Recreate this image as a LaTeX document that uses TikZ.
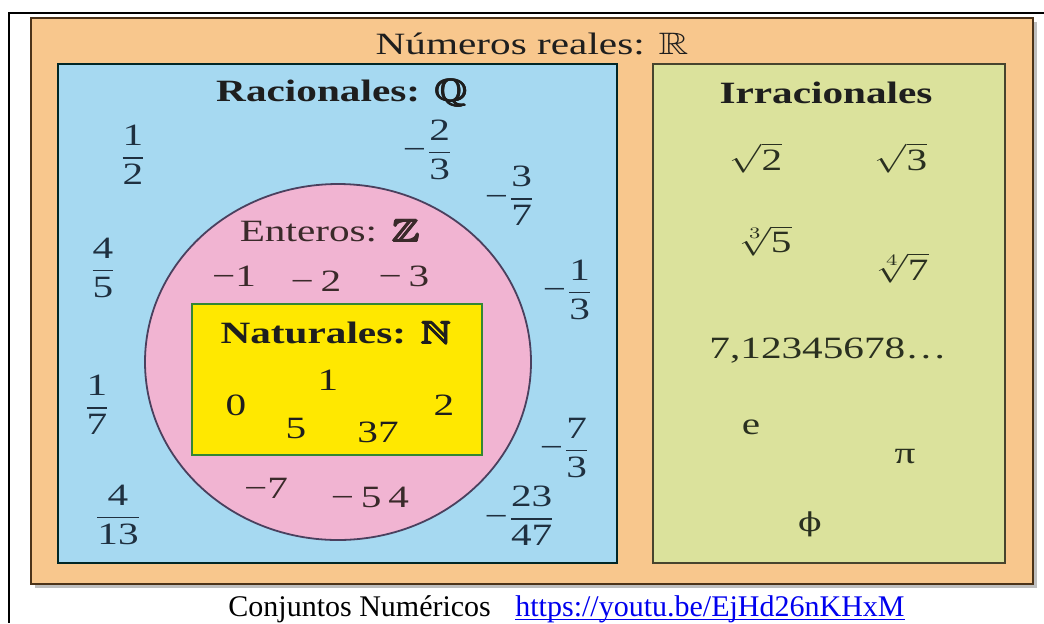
\documentclass[tikz,border=0pt]{standalone}
\usepackage{amssymb}
\usepackage{graphicx}
\usepackage{fontspec}
\setmainfont{Liberation Serif}
\newfontfamily\dvserif{DejaVu Serif}
\newsavebox\wbox
\newcommand\bbone[3]{\makebox[0pt][l]{\hspace{#2}\raisebox{#3}{$\mathbb{#1}$}}}
\newcommand\bbb[1]{\mbox{\bbone{#1}{0pt}{0pt}\bbone{#1}{0.7pt}{0pt}\bbone{#1}{0.35pt}{0.4pt}\bbone{#1}{0.35pt}{-0.35pt}\bbone{#1}{0.35pt}{0pt}\bbone{#1}{0.15pt}{0.3pt}\bbone{#1}{0.55pt}{-0.25pt}\hspace{0.7pt}$\mathbb{#1}$}}
\newcommand\fr[2]{$\displaystyle\frac{\mbox{#1}}{\mbox{#2}}$}
\definecolor{orangebg}{HTML}{F8C78D}
\definecolor{bluebg}{HTML}{A6D9F1}
\definecolor{greenbg}{HTML}{DBE29C}
\definecolor{pinkbg}{HTML}{F1B4D2}
\definecolor{yellowbg}{HTML}{FFE800}
\definecolor{ink}{HTML}{1E1E1E}
\definecolor{navy}{HTML}{1F3040}
\definecolor{brownink}{HTML}{3A2A2A}
\definecolor{olivink}{HTML}{2A3020}
\definecolor{ellipseline}{HTML}{4A405E}
\definecolor{linkblue}{HTML}{0000EE}
\tikzset{
  wide/.style={execute at begin node={\setbox\wbox=\hbox\bgroup},
               execute at end node={\egroup\scalebox{1.33}[1]{\usebox\wbox}}},
  txt/.style={wide, inner sep=0pt, font=\fontsize{15.5}{18}\selectfont, text=ink},
  frac/.style={txt, text=navy},
  ent/.style={txt, text=brownink},
  irr/.style={txt, text=olivink},
  boxline/.style={line width=1pt, draw=#1},
  caption/.style={anchor=base west, inner sep=0pt, font=\fontsize{15}{18}\selectfont},
}
\begin{document}
\begin{tikzpicture}[x=0.5pt,y=-0.5pt]
\useasboundingbox (0,0) rectangle (1044,623);
% outer page frame
\draw[line width=1.2pt] (1044,13) -- (9,13) -- (9,623);
% real numbers box
\fill[black!25] (35,22) rectangle (1037,588);
\draw[boxline={black!60!brown}, fill=orangebg] (31,18) rectangle (1033,584);
% rationals and irrationals
\draw[boxline={black!70!teal}, fill=bluebg] (58,64) rectangle (617,563);
\draw[boxline={black!65!olive}, fill=greenbg] (653,64) rectangle (1005,563);
% integers ellipse
\draw[line width=0.9pt, draw=ellipseline, fill=pinkbg] (338,362) ellipse [x radius=193, y radius=178];
% naturals rectangle
\draw[line width=1pt, draw=black!45!green!60!gray, fill=yellowbg] (192,304) rectangle (482,455);

% titles
\node[txt] (title) at (532,44) {Números reales: $\mathbb{R}$};
\node[txt] (racional) at (342,93) {\textbf{Racionales:} \bbb{Q}};
\node[txt] (irracional) at (826,93) {\textbf{Irracionales}};
\node[ent] (enteros) at (330,231) {Enteros: \bbb{Z}};
\node[txt] (naturales) at (336,333) {\textbf{Naturales:} \bbb{N}};

% rationals
\node[frac] (q1) at (133,155) {\fr{1}{2}};
\node[frac] (q2) at (428,150) {−\fr{2}{3}};
\node[frac] (q3) at (510,196) {−\fr{3}{7}};
\node[frac] (q4) at (103,268) {\fr{4}{5}};
\node[frac] (q5) at (568,290) {−\fr{1}{3}};
\node[frac] (q6) at (97,405) {\fr{1}{7}};
\node[frac] (q7) at (565,448) {−\fr{7}{3}};
\node[frac] (q8) at (118,515) {\fr{4}{13}};
\node[frac] (q9) at (520,516) {−\fr{23}{47}};

% integers
\node[ent] (z1) at (234,276) {−1};
\node[ent] (z2) at (316,281) {−\,2};
\node[ent] (z3) at (404,276) {−\,3};
\node[ent] (z4) at (266,488) {−7};
\node[ent] (z5) at (370,497) {−\,5\,4};

% naturals
\node[txt] (n0) at (236,405) {0};
\node[txt] (n1) at (328,380) {1};
\node[txt] (n2) at (444,405) {2};
\node[txt] (n5) at (296,428) {5};
\node[txt] (n37) at (378,432) {37};

% irrationals
\node[irr] (r2) at (756,158) {$\sqrt{\mbox{2}}$};
\node[irr] (r3) at (901,158) {$\sqrt{\mbox{3}}$};
\node[irr] (r5) at (765,241) {$\sqrt[3]{\mbox{5}}$};
\node[irr] (r7) at (902,268) {$\sqrt[4]{\mbox{7}}$};
\node[irr] (dec) at (828,351) {7,12345678…};
\node[irr] (e) at (751,427) {e};
\node[irr] (pi) at (905,457) {π};
\node[irr] (phi) at (810,524) {{\dvserif\fontsize{13}{15}\selectfont ϕ}};

% caption
\node[caption] (cap) at (228,616) {Conjuntos Numéricos};
\node[caption, text=linkblue] (link) at (515,616) {https://youtu.be/EjHd26nKHxM};
\draw[linkblue, line width=0.6pt] ([yshift=-1.6pt]link.base west) -- ([yshift=-1.6pt]link.base east);
\end{tikzpicture}
\end{document}
